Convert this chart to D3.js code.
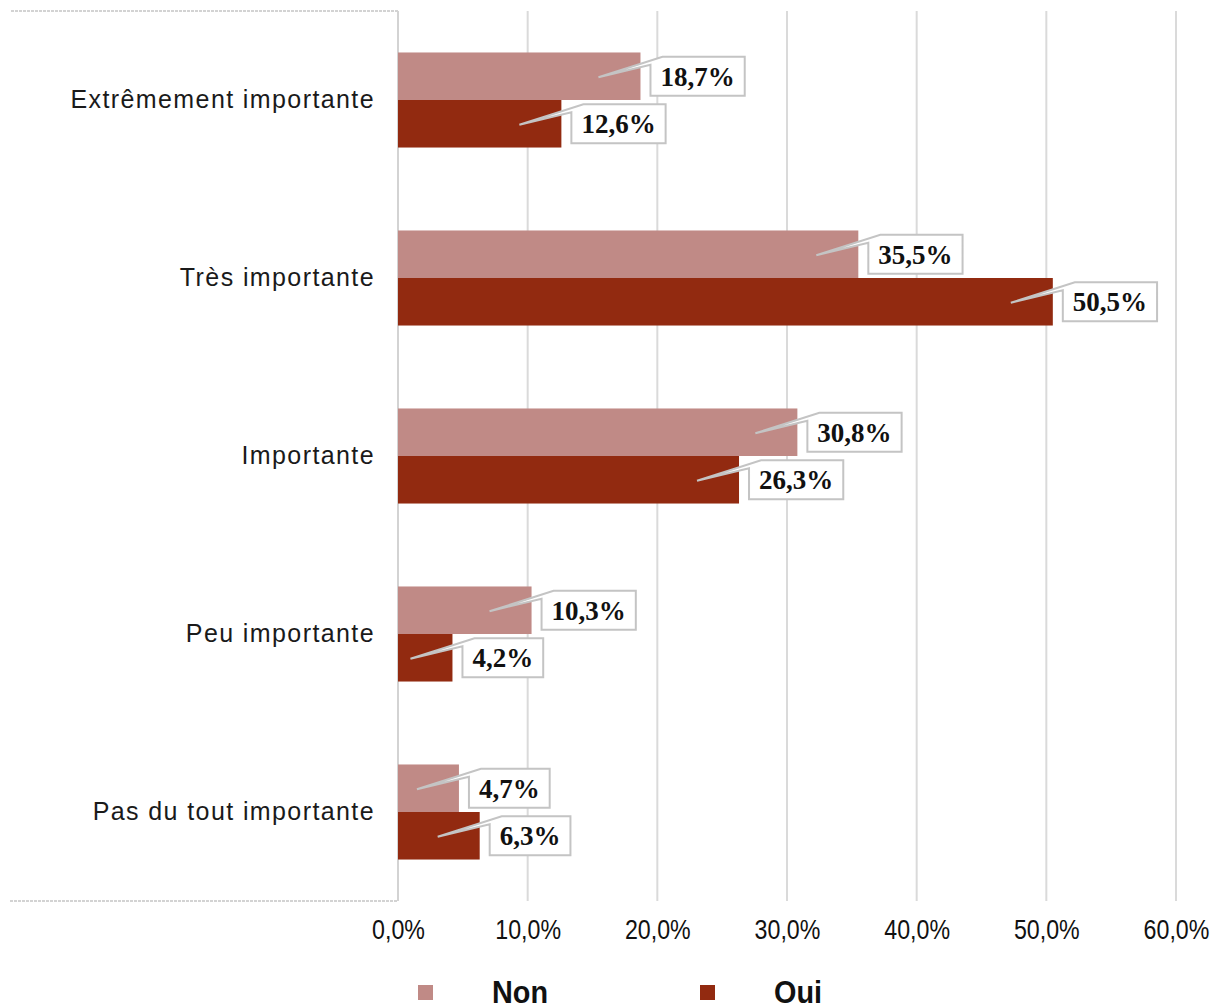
<!DOCTYPE html>
<html>
<head>
<meta charset="utf-8">
<script src="https://cdn.jsdelivr.net/npm/d3@7/dist/d3.min.js"></script>
<style>
  html, body { margin: 0; padding: 0; background: #fff; }
  svg { display: block; }
</style>
</head>
<body>
<svg id="chart" width="1220" height="1008"></svg>
<script>
// Importance ratings, split by respondent answer (Non / Oui), in percent
const categories = [
  "Extrêmement importante",
  "Très importante",
  "Importante",
  "Peu importante",
  "Pas du tout importante"
];
const seriesNames = ["Non", "Oui"];
const nonValues = [18.7, 35.5, 30.8, 10.3, 4.7];
const ouiValues = [12.6, 50.5, 26.3, 4.2, 6.3];
const tickValues = [0, 10, 20, 30, 40, 50, 60];

const colors = { Non: "#c08a86", Oui: "#922a10" };

const rows = categories.map((c, i) => ({
  category: c,
  values: [
    { series: "Non", value: nonValues[i] },
    { series: "Oui", value: ouiValues[i] }
  ]
}));

const svg = d3.select("#chart");
const frLocale = d3.formatLocale({ decimal: ",", thousands: " ", grouping: [3], currency: ["", " €"] });
const fmt = v => frLocale.format(".1f")(v) + "%";

const plot = { left: 398, right: 1176, top: 11, bottom: 901 };

const x = d3.scaleLinear().domain([0, 60]).range([plot.left, plot.right]);
const y = d3.scaleBand().domain(categories).range([plot.top, plot.bottom])
  .paddingInner(0.466).paddingOuter(0.233);
const ySub = d3.scaleBand().domain(seriesNames).range([0, y.bandwidth()]);

// frame around the category label area
const frameColor = "#d3d3d3";
svg.append("path")
  .attr("d", `M${plot.left},${plot.top}H10M10,${plot.bottom}H${plot.left}`)
  .attr("fill", "none").attr("stroke", frameColor).attr("stroke-width", 2)
  .attr("stroke-dasharray", "3,1");

// vertical gridlines
svg.append("g").selectAll("line").data(tickValues).join("line")
  .attr("x1", d => x(d)).attr("x2", d => x(d))
  .attr("y1", plot.top).attr("y2", plot.bottom)
  .attr("stroke", d => d === 0 ? frameColor : "#dadada")
  .attr("stroke-width", 2);

// x axis tick labels (condensed sans)
const xAxis = d3.axisBottom(x).tickValues(tickValues).tickSize(0).tickPadding(0)
  .tickFormat(d => frLocale.format(".1f")(d) + "%");
const gx = svg.append("g").attr("transform", `translate(0,${plot.bottom + 19})`).call(xAxis);
gx.select(".domain").remove();
gx.selectAll("text")
  .attr("dy", "0.71em")
  .attr("transform", "scale(0.86,1)")
  .attr("font-family", "'Liberation Sans', Arial, sans-serif")
  .attr("font-size", 27).attr("fill", "#111");

// category labels
const yAxis = d3.axisLeft(y).tickSize(0).tickPadding(0);
const gy = svg.append("g").attr("transform", `translate(${plot.left - 23},0)`).call(yAxis);
gy.select(".domain").remove();
gy.selectAll("text")
  .attr("font-family", "'Liberation Sans', Arial, sans-serif")
  .attr("font-size", 25).attr("letter-spacing", "1.4px").attr("fill", "#1a1a1a");

// bars
const groups = svg.append("g").selectAll("g").data(rows).join("g")
  .attr("transform", d => `translate(0,${y(d.category)})`);

groups.selectAll("rect").data(d => d.values).join("rect")
  .attr("x", x(0))
  .attr("y", d => ySub(d.series))
  .attr("width", d => x(d.value) - x(0))
  .attr("height", ySub.bandwidth())
  .attr("fill", d => colors[d.series]);

// callout labels
const boxH = 39, padX = 10, gap = 10;
const labels = groups.selectAll("g.callout").data(d => d.values).join("g")
  .attr("class", "callout");

labels.each(function(d) {
  const g = d3.select(this);
  const cy = ySub(d.series) + ySub.bandwidth() / 2;
  const bx = x(d.value) + gap;
  const text = g.append("text")
    .attr("x", bx + padX).attr("y", cy)
    .attr("dy", "0.36em")
    .attr("font-family", "'Liberation Serif', 'Times New Roman', serif")
    .attr("font-weight", "bold").attr("font-size", 27).attr("fill", "#111")
    .text(fmt(d.value));
  const w = text.node().getComputedTextLength() + padX * 2;
  const by = cy - boxH / 2;
  const tipX = bx - 52, tipY = cy + 1;
  g.insert("path", "text")
    .attr("d", `M${bx + 12},${by}H${bx + w}V${by + boxH}H${bx}V${by + 8}L${tipX},${tipY}Z`)
    .attr("fill", "#fff").attr("stroke", "#c4c4c4").attr("stroke-width", 2)
    .attr("stroke-linejoin", "miter");
});

// legend
const legend = svg.append("g").selectAll("g").data(seriesNames).join("g")
  .attr("transform", (d, i) => `translate(${418 + i * 282},985)`);
legend.append("rect").attr("width", 15).attr("height", 15)
  .attr("fill", d => colors[d]);
legend.append("text")
  .attr("transform", "translate(74,18) scale(0.93,1)")
  .attr("font-family", "'Liberation Sans', Arial, sans-serif")
  .attr("font-weight", "bold").attr("font-size", 31).attr("fill", "#111")
  .text(d => d);
</script>
</body>
</html>
